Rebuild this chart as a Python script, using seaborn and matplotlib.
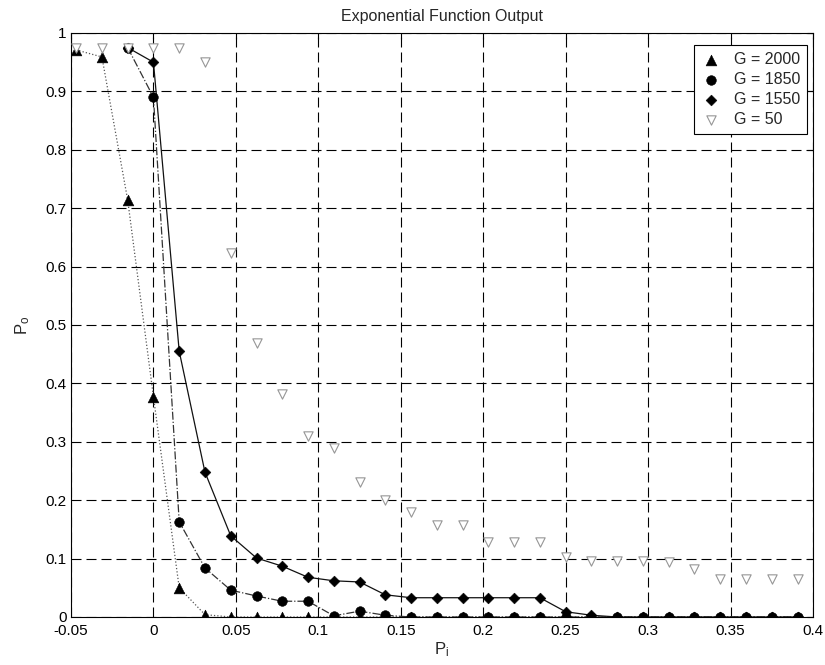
import numpy as np
import pandas as pd
import matplotlib
matplotlib.use("Agg")
import matplotlib.pyplot as plt
import seaborn as sns

# Input level P_i (step of 1/64)
p_in = [-0.046875, -0.03125, -0.015625, 0.0, 0.015625, 0.03125, 0.046875,
        0.0625, 0.078125, 0.09375, 0.109375, 0.125, 0.140625, 0.15625,
        0.171875, 0.1875, 0.203125, 0.21875, 0.234375, 0.25, 0.265625,
        0.28125, 0.296875, 0.3125, 0.328125, 0.34375, 0.359375, 0.375,
        0.390625]

nan = np.nan
g2000 = [0.971, 0.959, 0.714, 0.377, 0.050, 0.004] + [0.0] * 23
g1850 = [nan, nan, 0.975, 0.890, 0.163, 0.084, 0.046, 0.036, 0.027, 0.027,
         0.002, 0.010, 0.003] + [0.0] * 16
g1550 = [nan, nan, 0.975, 0.950, 0.455, 0.248, 0.139, 0.101, 0.087, 0.068,
         0.062, 0.060, 0.038, 0.033, 0.033, 0.033, 0.033, 0.033, 0.033,
         0.009, 0.003] + [0.0] * 8
g50 = [0.974, 0.974, 0.974, 0.974, 0.974, 0.950, 0.623, 0.469, 0.382, 0.310,
       0.290, 0.231, 0.200, 0.180, 0.158, 0.158, 0.128, 0.128, 0.128, 0.103,
       0.096, 0.096, 0.096, 0.094, 0.083, 0.065, 0.065, 0.065, 0.065]

labels = ["G = 2000", "G = 1850", "G = 1550", "G = 50"]
x_ticks = [-0.05, 0, 0.05, 0.1, 0.15, 0.2, 0.25, 0.3, 0.35, 0.4]
x_tick_labels = ["-0.05", "0", "0.05", "0.1", "0.15", "0.2", "0.25", "0.3",
                 "0.35", "0.4"]
y_ticks = [0, 0.1, 0.2, 0.3, 0.4, 0.5, 0.6, 0.7, 0.8, 0.9, 1.0]
y_tick_labels = ["0", "0.1", "0.2", "0.3", "0.4", "0.5", "0.6", "0.7",
                 "0.8", "0.9", "1"]

sns.set_style("white")
plt.rcParams["font.family"] = ["Liberation Sans", "DejaVu Sans"]
plt.rcParams["mathtext.default"] = "regular"

fig = plt.figure(figsize=(8.25, 6.65), dpi=100)
ax = fig.add_axes([71 / 825, 1 - 617 / 665, (813 - 71) / 825, (617 - 33) / 665])

df = pd.DataFrame({"P_i": p_in, "g2000": g2000, "g1850": g1850,
                   "g1550": g1550, "g50": g50})

# connecting lines (no legend entries)
line_styles = {"g2000": ":", "g1850": "-.", "g1550": "-"}
line_colors = {"g2000": "#555555", "g1850": "#333333", "g1550": "#111111"}
for col, ls in line_styles.items():
    sub = df[["P_i", col]].dropna()
    sns.lineplot(data=sub, x="P_i", y=col, ax=ax, estimator=None, sort=False,
                 color=line_colors[col], linewidth=0.9, linestyle=ls,
                 zorder=2, legend=False)

# markers
sns.scatterplot(data=df, x="P_i", y="g2000", ax=ax, marker="^", s=60,
                color="black", edgecolor="black", linewidth=0.4,
                label=labels[0], zorder=3)
sns.scatterplot(data=df.dropna(subset=["g1850"]), x="P_i", y="g1850", ax=ax,
                marker="o", s=48, color="black", edgecolor="black",
                linewidth=0.4, label=labels[1], zorder=3)
sns.scatterplot(data=df.dropna(subset=["g1550"]), x="P_i", y="g1550", ax=ax,
                marker="D", s=30, color="black", edgecolor="black",
                linewidth=0.4, label=labels[2], zorder=3)
sns.scatterplot(data=df, x="P_i", y="g50", ax=ax, marker="v", s=45,
                facecolor="white", edgecolor="#969696", linewidth=0.8,
                label=labels[3], zorder=4)

ax.set_xlim(-0.05, 0.4)
ax.set_ylim(0, 1)
ax.set_xticks(x_ticks)
ax.set_xticklabels(x_tick_labels)
ax.set_yticks(y_ticks)
ax.set_yticklabels(y_tick_labels)
ax.tick_params(direction="in", top=True, right=True, length=4, width=0.8,
               labelsize=11, colors="black")
ax.tick_params(axis="x", pad=5)
ax.tick_params(axis="y", pad=3)

ax.grid(True, color="black", linestyle=(0, (9, 4.5)), linewidth=0.8)
ax.set_axisbelow(True)
for sp in ax.spines.values():
    sp.set_visible(True)
    sp.set_color("black")
    sp.set_linewidth(0.8)

ax.set_title("Exponential Function Output", fontsize=11.5, pad=9)
ax.set_xlabel("$P_i$", fontsize=12, labelpad=2)
ax.set_ylabel("$P_o$", fontsize=12, labelpad=10)

leg = ax.legend(loc="upper right", bbox_to_anchor=(0.992, 0.979),
                borderaxespad=0, frameon=True, fancybox=False,
                edgecolor="black", fontsize=11.5, labelspacing=0.3,
                handlelength=1.2, handletextpad=0.8, borderpad=0.45,
                framealpha=1)
leg.get_frame().set_linewidth(0.8)

fig.savefig("out.png", dpi=100)
